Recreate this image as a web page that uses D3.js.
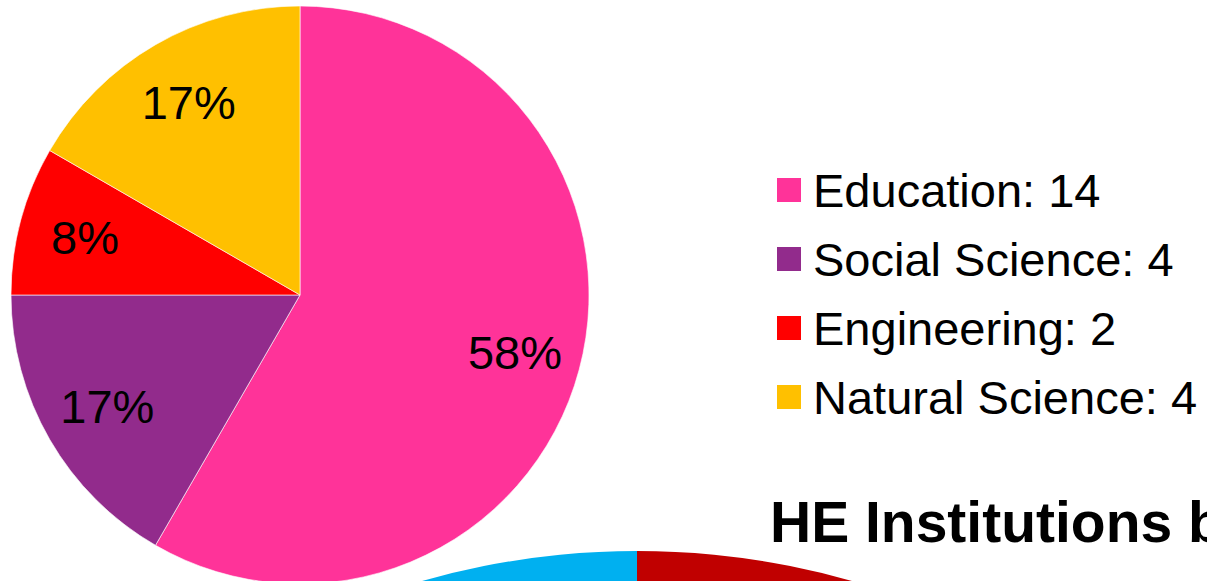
<!DOCTYPE html>
<html>
<head>
<meta charset="utf-8">
<script src="https://cdn.jsdelivr.net/npm/d3@7"></script>
<style>
  body { margin: 0; background: #fff; overflow: hidden; }
  svg { display: block; font-family: Arial, "Liberation Sans", sans-serif; }
</style>
</head>
<body>
<div id="chart"></div>
<script>
const width = 1207
const height = 581

// Main pie: HE fields
const fields = ["Education", "Social Science", "Engineering", "Natural Science"]
const counts = [14, 4, 2, 4]
const fieldColors = ["#FF3399", "#922B8C", "#FF0000", "#FFC000"]

// Second chart, only its top edge shows (values estimated)
const lowerSlices = ["A", "B"]
const lowerValues = [1, 1]
const lowerColors = ["#C00000", "#00B0F0"]

const titleText = "HE Institutions by"

const svg = d3.select("#chart")
              .append("svg")
                .attr("width", width)
                .attr("height", height)

const total = d3.sum(counts)
const pieData = d3.pie().sort(null)(counts)

const radius = 289
const pieG = svg.append("g").attr("transform", "translate(300, 295)")

const arc = d3.arc().innerRadius(0).outerRadius(radius)
const labelArc = d3.arc().innerRadius(radius * 0.77).outerRadius(radius * 0.77)

pieG.selectAll("path")
    .data(pieData)
    .join("path")
      .attr("d", arc)
      .attr("fill", (d, i) => fieldColors[i])
      .attr("stroke", "#fff")
      .attr("stroke-width", 0.6)

pieG.selectAll("text")
    .data(pieData)
    .join("text")
      .attr("transform", d => `translate(${labelArc.centroid(d)})`)
      .attr("text-anchor", "middle")
      .attr("dy", "0.35em")
      .attr("font-size", 47)
      .text(d => `${Math.round(d.data / total * 100)}%`)

// Legend
const legend = svg.append("g").attr("transform", "translate(777, 190)")
const rows = legend.selectAll("g")
                   .data(fields)
                   .join("g")
                     .attr("transform", (d, i) => `translate(0, ${i * 69})`)
rows.append("rect")
    .attr("y", -12)
    .attr("width", 24)
    .attr("height", 24)
    .attr("fill", (d, i) => fieldColors[i])
rows.append("text")
    .attr("x", 36)
    .attr("y", 17)
    .attr("font-size", 47)
    .text((d, i) => `${d}: ${counts[i]}`)

// Title of the next chart
svg.append("text")
   .attr("x", 770)
   .attr("y", 542)
   .attr("font-size", 57)
   .attr("font-weight", "bold")
   .attr("textLength", null)
   .text(titleText)

// Lower pie, mostly off-screen
const lowerRadius = 785
const lowerG = svg.append("g").attr("transform", `translate(637, ${551 + lowerRadius})`)
lowerG.selectAll("path")
      .data(d3.pie().sort(null)(lowerValues))
      .join("path")
        .attr("d", d3.arc().innerRadius(0).outerRadius(lowerRadius))
        .attr("fill", (d, i) => lowerColors[i])
</script>
</body>
</html>
